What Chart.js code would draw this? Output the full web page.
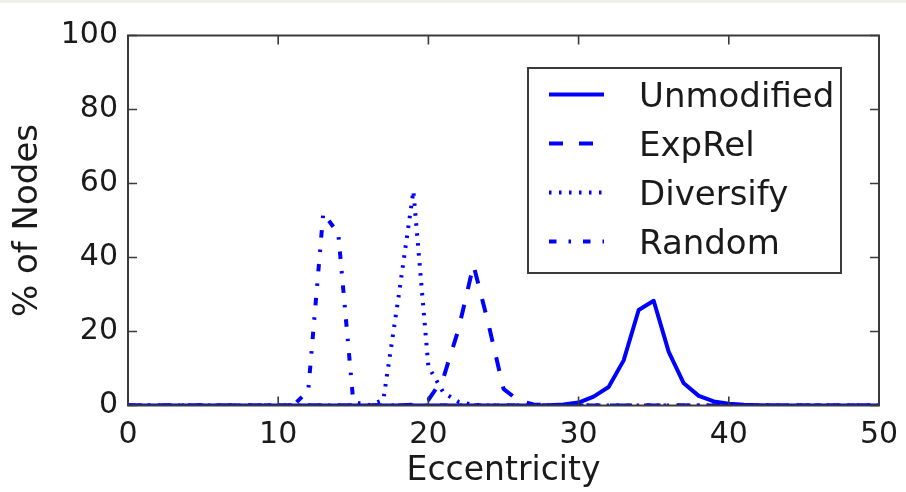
<!DOCTYPE html>
<html>
<head>
<meta charset="utf-8">
<script src="https://cdn.jsdelivr.net/npm/chart.js@4.4.1/dist/chart.umd.min.js"></script>
<style>
html,body{margin:0;padding:0;background:#fff;}
#wrap{width:906px;height:492px;position:relative;}
canvas{display:block;}
</style>
</head>
<body>
<div id="wrap"><canvas id="c" width="906" height="492"></canvas></div>
<script>
// ---- data ----
const eccentricity = [0,1,2,3,4,5,6,7,8,9,10,11,12,13,14,15,16,17,18,19,20,21,22,23,24,25,26,27,28,29,30,31,32,33,34,35,36,37,38,39,40,41,42,43,44,45,46,47,48,49,50];
const unmodified = [0,0,0,0,0,0,0,0,0,0,0,0,0,0,0,0,0,0,0,0,0,0,0,0,0,0,0,0,0.1,0.3,0.8,2.4,5,12.2,25.8,28.3,14.5,6,2.6,1.1,0.5,0.2,0.1,0,0,0,0,0,0,0,0];
const expRel     = [0,0,0,0,0,0,0,0,0,0,0,0,0,0,0,0,0,0,0,0.2,1.5,7.5,20.5,38,22,4.5,1.3,0.3,0.1,0,0,0,0,0,0,0,0,0,0,0,0,0,0,0,0,0,0,0,0,0,0];
const diversify  = [0,0,0,0,0,0,0,0,0,0,0,0,0,0,0,0,0,1.5,29,58,10.5,3.5,1,0.2,0,0,0,0,0,0,0,0,0,0,0,0,0,0,0,0,0,0,0,0,0,0,0,0,0,0,0];
const random     = [0,0,0,0,0,0,0,0,0,0,0,0,4,52,46.5,1,0,0,0,0,0,0,0,0,0,0,0,0,0,0,0,0,0,0,0,0,0,0,0,0,0,0,0,0,0,0,0,0,0,0,0];
const seriesNames = ['Unmodified','ExpRel','Diversify','Random'];
const xTicks = [0,10,20,30,40,50];
const yTicks = [0,20,40,60,80,100];

const BLUE = '#0000ff';
const TEXT = '#1a1a1a';
const FONT = 'DejaVu Sans';

function pts(arr){ return eccentricity.map((x,i)=>({x:x,y:arr[i]})); }

const dashStyles = [[], [14,16], [2.5,7.5], [7.5,12,2.5,12]];
const seriesData = [unmodified, expRel, diversify, random];

const datasets = seriesData.map((d,i)=>({
  label: seriesNames[i],
  data: pts(d),
  borderColor: BLUE,
  backgroundColor: BLUE,
  borderWidth: 4,
  borderDash: dashStyles[i],
  borderCapStyle: 'butt',
  borderJoinStyle: 'round',
  pointRadius: 0,
  fill: false,
  tension: 0
}));

const bgPlugin = {
  id: 'bg',
  beforeDraw(chart){
    const ctx = chart.ctx;
    ctx.save();
    ctx.fillStyle = '#ffffff';
    ctx.fillRect(0,0,chart.width,chart.height);
    ctx.fillStyle = '#efefea';
    ctx.fillRect(0,0,chart.width,3);
    ctx.restore();
  }
};

const framePlugin = {
  id: 'frame',
  afterDatasetsDraw(chart){
    const {ctx, chartArea:a, scales} = chart;
    ctx.save();
    ctx.strokeStyle = '#3a3a3a';
    ctx.lineWidth = 2;
    ctx.setLineDash([]);
    ctx.strokeRect(a.left, a.top, a.right-a.left, a.bottom-a.top);
    const tl = 9;
    ctx.lineWidth = 1.6;
    ctx.beginPath();
    xTicks.forEach(v=>{
      const px = scales.x.getPixelForValue(v);
      ctx.moveTo(px, a.bottom); ctx.lineTo(px, a.bottom-tl);
      ctx.moveTo(px, a.top); ctx.lineTo(px, a.top+tl);
    });
    yTicks.forEach(v=>{
      const py = scales.y.getPixelForValue(v);
      ctx.moveTo(a.left, py); ctx.lineTo(a.left+tl, py);
      ctx.moveTo(a.right, py); ctx.lineTo(a.right-tl, py);
    });
    ctx.stroke();
    ctx.restore();
  }
};

const legendPlugin = {
  id: 'boxLegend',
  afterDraw(chart){
    const ctx = chart.ctx;
    const box = {x:528, y:68, w:313, h:205};
    ctx.save();
    ctx.fillStyle = '#ffffff';
    ctx.fillRect(box.x, box.y, box.w, box.h);
    ctx.strokeStyle = '#3a3a3a';
    ctx.lineWidth = 2;
    ctx.strokeRect(box.x, box.y, box.w, box.h);
    chart.data.datasets.forEach((ds,i)=>{
      const cy = 94.5 + i*49;
      ctx.strokeStyle = ds.borderColor;
      ctx.lineWidth = ds.borderWidth;
      ctx.lineCap = 'butt';
      ctx.setLineDash(ds.borderDash);
      ctx.beginPath();
      ctx.moveTo(549, cy);
      ctx.lineTo(604, cy);
      ctx.stroke();
      ctx.setLineDash([]);
      ctx.fillStyle = TEXT;
      ctx.font = '34px "' + FONT + '"';
      ctx.textBaseline = 'alphabetic';
      ctx.textAlign = 'left';
      ctx.fillText(ds.label, 639, cy + 12.5);
    });
    ctx.restore();
  }
};

new Chart(document.getElementById('c'), {
  type: 'line',
  data: { datasets: datasets },
  options: {
    responsive: false,
    animation: false,
    devicePixelRatio: 1,
    layout: { padding: { left: 0, right: 27, top: 35.5, bottom: 0 } },
    plugins: { legend: { display: false }, tooltip: { enabled: false } },
    scales: {
      x: {
        type: 'linear', min: 0, max: 50,
        afterBuildTicks(scale){ scale.ticks = xTicks.map(v=>({value:v})); },
        afterFit(scale){ scale.height = 86.5; scale.paddingLeft = 0; scale.paddingRight = 0; },
        ticks: { font: { family: FONT, size: 30 }, color: TEXT, padding: 12, maxRotation: 0 },
        grid: { display: true, drawOnChartArea: false, drawTicks: false },
        border: { display: false },
        title: { display: true, text: 'Eccentricity', font: { family: FONT, size: 33 }, color: TEXT, padding: { top: 0, bottom: 1 } }
      },
      y: {
        type: 'linear', min: 0, max: 100,
        afterBuildTicks(scale){ scale.ticks = yTicks.map(v=>({value:v})); },
        afterFit(scale){ scale.width = 128; scale.paddingTop = 0; scale.paddingBottom = 0; },
        ticks: { font: { family: FONT, size: 30 }, color: TEXT, padding: 10 },
        grid: { display: true, drawOnChartArea: false, drawTicks: false },
        border: { display: false },
        title: { display: true, text: '% of Nodes', font: { family: FONT, size: 34 }, color: TEXT, padding: { top: 8, bottom: 0 } }
      }
    }
  },
  plugins: [bgPlugin, framePlugin, legendPlugin]
});
</script>
</body>
</html>
